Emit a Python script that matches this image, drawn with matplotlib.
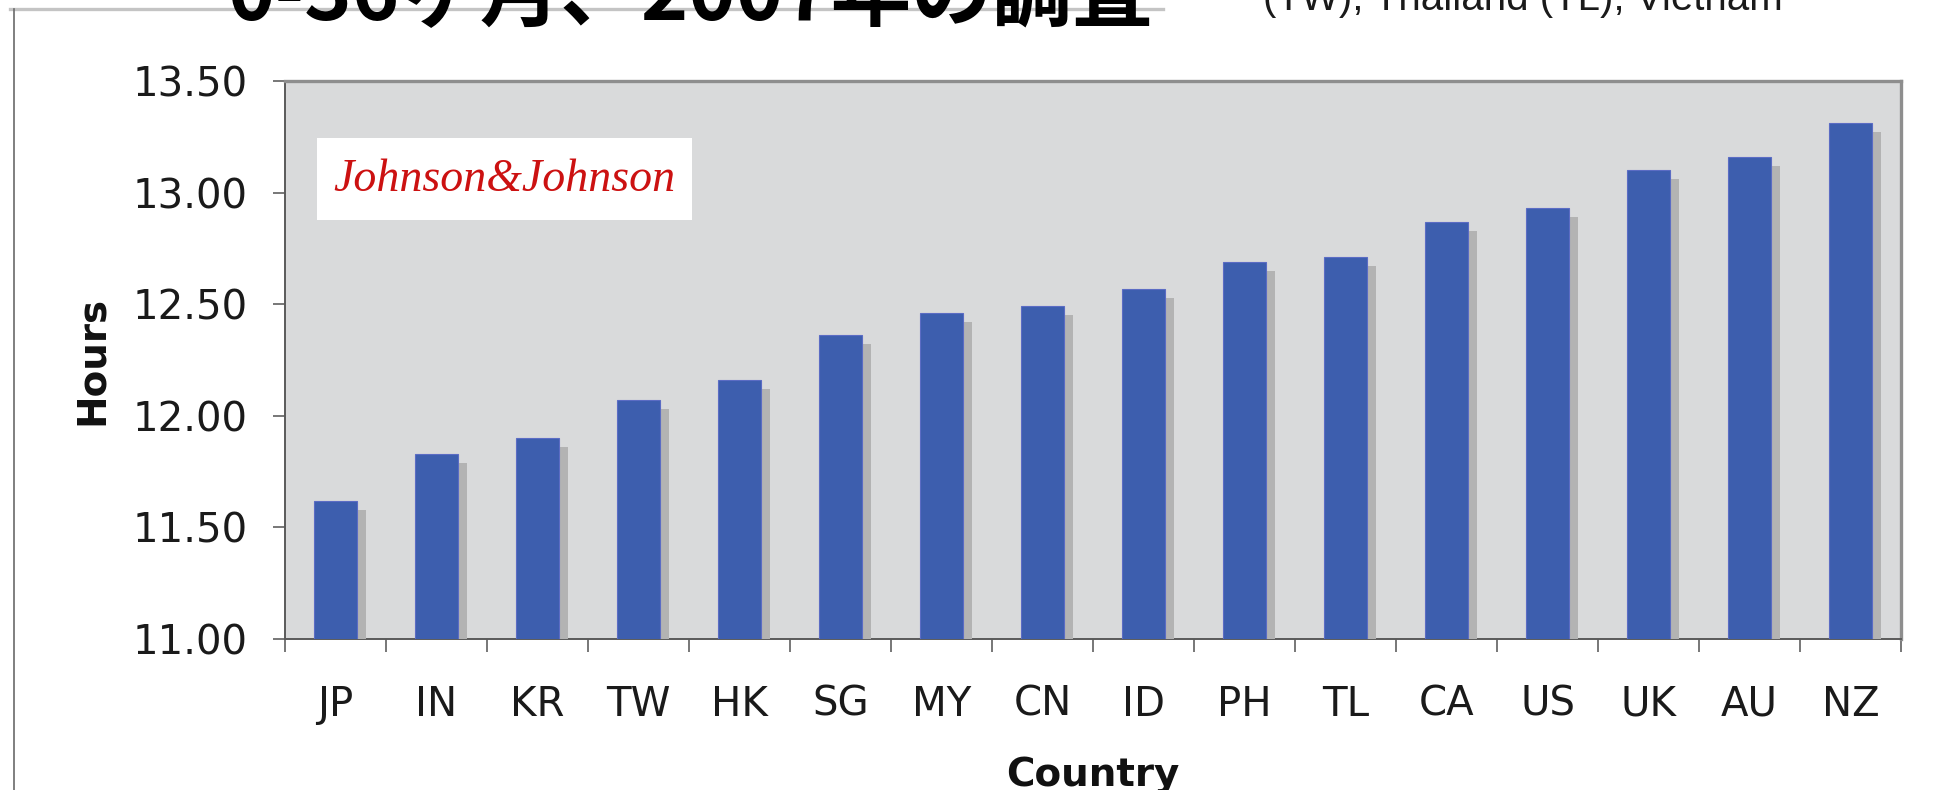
import matplotlib
matplotlib.use("Agg")
import matplotlib.pyplot as plt
import matplotlib.patheffects as pe
from matplotlib.patches import Rectangle
from matplotlib.lines import Line2D

countries = ["JP", "IN", "KR", "TW", "HK", "SG", "MY", "CN", "ID", "PH", "TL", "CA", "US", "UK", "AU", "NZ"]
hours = [11.62, 11.83, 11.90, 12.07, 12.16, 12.36, 12.46, 12.49, 12.57, 12.69, 12.71, 12.87, 12.93, 13.10, 13.16, 13.31]
yticks = [11.00, 11.50, 12.00, 12.50, 13.00, 13.50]
title_text = "0-36ヶ月、2007年の調査"
side_text = "(TW), Thailand (TL), Vietnam"
logo_text = "Johnson&Johnson"

W, H = 1934, 790
fig = plt.figure(figsize=(W / 100, H / 100), dpi=100)
fig.patch.set_facecolor("white")

def fx(px):
    return px / W

def fy(py):
    return (H - py) / H

L, R, T, B = 285, 1901, 81, 639
ax = fig.add_axes([fx(L), fy(B), fx(R) - fx(L), fy(T) - fy(B)])
ax.set_facecolor("#d9dadb")

x = list(range(len(countries)))
bars = ax.bar(x, hours, width=0.43, color="#3d5eae", edgecolor="#5b6cc4", linewidth=0.8, zorder=3)
for b in bars:
    b.set_path_effects([pe.SimplePatchShadow(offset=(6.5, -6.5), shadow_rgbFace="#b3b3b3", alpha=1.0), pe.Normal()])

ax.set_xlim(-0.5, len(countries) - 0.5)
ax.set_ylim(yticks[0], yticks[-1])
ax.set_yticks(yticks, labels=[f"{v:.2f}" for v in yticks])
ax.set_xticks(x, labels=countries)
ax.set_xticks([i - 0.5 for i in range(len(countries) + 1)], minor=True)

ax.tick_params(axis="x", which="major", length=0, pad=33, labelsize=29, labelcolor="#1a1a1a")
ax.tick_params(axis="x", which="minor", length=9.4, width=1.2, color="#606060", direction="out")
ax.tick_params(axis="y", which="major", length=8.6, width=1.2, color="#606060", pad=18, labelsize=29, labelcolor="#1a1a1a")

for s in ["left", "bottom"]:
    ax.spines[s].set_color("#5a5a5a")
    ax.spines[s].set_linewidth(1.4)
for s in ["top", "right"]:
    ax.spines[s].set_color("#8e8e8e")
    ax.spines[s].set_linewidth(2.4)

ax.set_ylabel("Hours", fontsize=28, fontweight="bold", va="center", color="#111111")
ax.yaxis.set_label_coords((92 - L) / (R - L), 0.5)
ax.set_xlabel("Country", fontsize=28, fontweight="bold", va="baseline", color="#111111")
ax.xaxis.set_label_coords(0.5, (B - 786) / (B - T))

# logo box
lx0, lx1, ly0, ly1 = 317, 692, 138, 220
ax.add_patch(Rectangle(((lx0 - L) / (R - L), (B - ly1) / (B - T)), (lx1 - lx0) / (R - L), (ly1 - ly0) / (B - T),
                       transform=ax.transAxes, facecolor="white", edgecolor="none", zorder=4))
ax.text((504 - L) / (R - L), (B - 180) / (B - T), logo_text, transform=ax.transAxes, ha="center", va="center",
        fontsize=33, style="italic", family="Liberation Serif", color="#cc1111", zorder=5)

# outer frame lines
fig.add_artist(Line2D([fx(10), fx(1163)], [fy(9), fy(9)], color="#c4c4c4", linewidth=2.4, transform=fig.transFigure, zorder=0))
fig.add_artist(Line2D([fx(13.5), fx(13.5)], [fy(9), fy(800)], color="#6a6a6a", linewidth=1.2, transform=fig.transFigure, zorder=0))

fig.text(fx(690), fy(20), title_text, ha="center", va="baseline", fontsize=58, fontweight="bold",
         family=["Noto Sans CJK JP", "DejaVu Sans"], color="black", zorder=2)
fig.text(fx(1523), fy(10), side_text, ha="center", va="baseline", fontsize=29,
         family="Liberation Sans", color="#1a1a1a")

fig.savefig("out.png", dpi=100, facecolor="white")
